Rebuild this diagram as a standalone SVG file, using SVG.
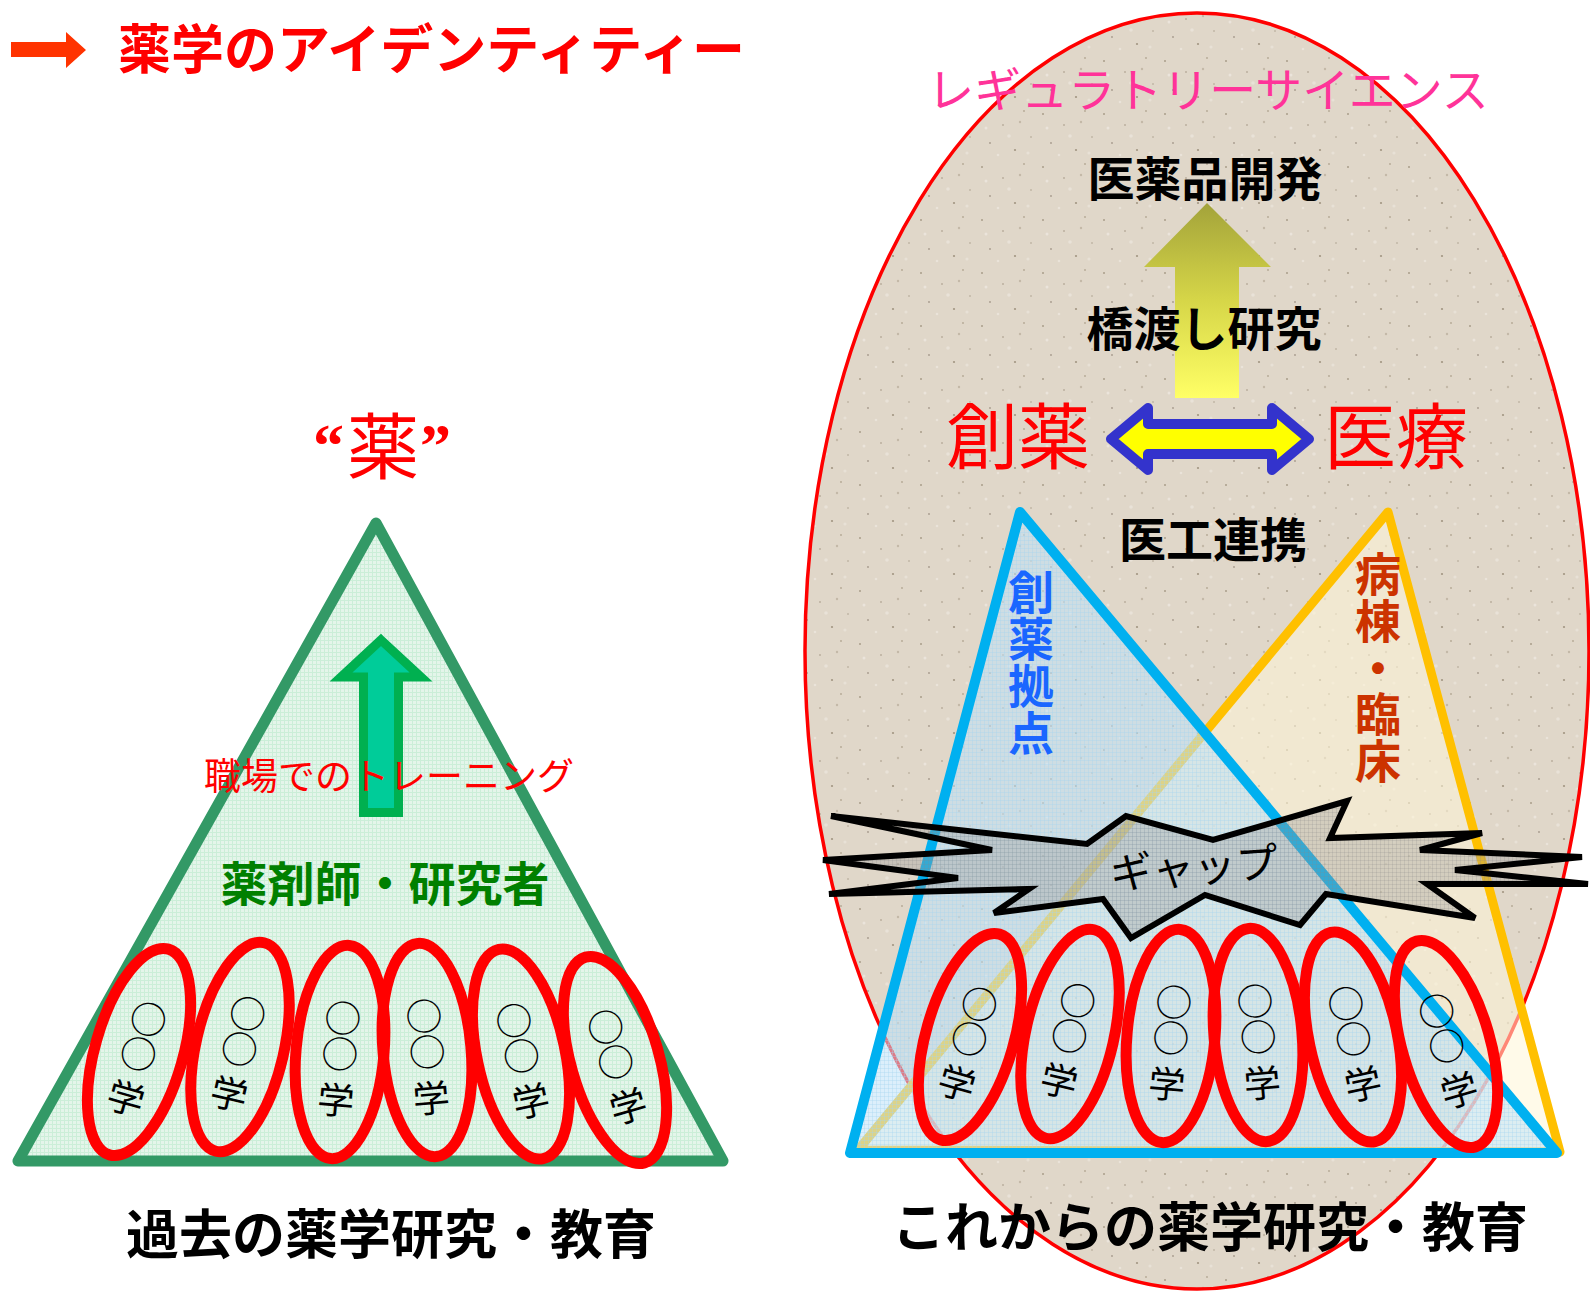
<svg xmlns="http://www.w3.org/2000/svg" width="1590" height="1291" viewBox="0 0 1590 1291">
<defs>
<style>
text { font-family: "Noto Sans CJK JP", "Noto Sans", sans-serif; }
.b { font-weight: bold; }
.c { text-anchor: middle; }
.q { font-family: "Liberation Serif", serif; font-weight: bold; font-size: 62px; }
.oval { fill: none; stroke: #ff0000; stroke-width: 11; }
.gk { font-size: 37px; fill: #000; text-anchor: middle; dominant-baseline: central; }
.blk { fill: #000; }
.vt { writing-mode: vertical-rl; }
</style>
<pattern id="gGrid" width="4" height="4" patternUnits="userSpaceOnUse">
<rect width="4" height="4" fill="#e4f5ea"/>
<path d="M0 0.5H4M0.5 0V4" stroke="#cbeed8" stroke-width="1"/>
</pattern>
<pattern id="bGrid" width="4" height="4" patternUnits="userSpaceOnUse">
<rect width="4" height="4" fill="#bfe2f7" fill-opacity="0.55"/>
<path d="M0 0.5H4M0.5 0V4" stroke="#a6d4ee" stroke-opacity="0.35" stroke-width="1"/>
</pattern>
<pattern id="yGrid" width="4" height="4" patternUnits="userSpaceOnUse">
<rect width="4" height="4" fill="#fff6d6" fill-opacity="0.55"/>
</pattern>
<pattern id="kGrid" width="4" height="4" patternUnits="userSpaceOnUse">
<rect width="4" height="4" fill="#9a9a9a" fill-opacity="0.35"/>
<path d="M0 0.5H4M0.5 0V4" stroke="#888" stroke-opacity="0.2" stroke-width="1"/>
</pattern>
<pattern id="sand" width="61" height="53" patternUnits="userSpaceOnUse">
<rect width="61" height="53" fill="#e0d7c9"/>
<circle cx="6" cy="8" r="1" fill="#aa9e8a"/>
<circle cx="27" cy="19" r="0.8" fill="#a09480"/>
<circle cx="48" cy="5" r="0.9" fill="#b3a894"/>
<circle cx="14" cy="37" r="0.9" fill="#a69a8c"/>
<circle cx="39" cy="44" r="1.1" fill="#a29682"/>
<circle cx="55" cy="31" r="0.8" fill="#ada18e"/>
<circle cx="33" cy="30" r="1.8" fill="#e9e2d8"/>
<circle cx="10" cy="22" r="1.5" fill="#ebe4db"/>
<circle cx="52" cy="47" r="1.6" fill="#e8e1d6"/>
<circle cx="22" cy="49" r="1.3" fill="#eae3d9"/>
<circle cx="44" cy="16" r="1.2" fill="#c4b9a7"/>
</pattern>
<linearGradient id="yArrow" x1="0" y1="0" x2="0" y2="1">
<stop offset="0" stop-color="#a3a33a"/>
<stop offset="0.5" stop-color="#d6d648"/>
<stop offset="1" stop-color="#ffff66"/>
</linearGradient>
</defs>

<rect width="1590" height="1291" fill="#ffffff"/>

<!-- right big ellipse -->
<g id="regulatory-ellipse">
<ellipse cx="1197" cy="651" rx="392" ry="638" fill="url(#sand)" stroke="#ff0000" stroke-width="3.5"/>
</g>

<!-- title -->
<g id="title">
<text x="118" y="69" font-size="53" class="b" fill="#ff0000">薬学のアイデンティティー</text>
</g>

<!-- left pyramid -->
<g id="left-pyramid">
<polygon points="376,523 18,1161 723,1161" fill="url(#gGrid)" stroke="#339966" stroke-width="11" stroke-linejoin="round"/>
</g>

<g id="label-kusuri">
<text fill="#ff0000"><tspan class="q" x="313" y="466">“</tspan><tspan x="347" y="473" font-size="72">薬</tspan><tspan class="q" x="420" y="466">”</tspan></text>
</g>

<!-- right triangles -->
<g id="hospital-triangle">
<polygon points="1388,512 858,1150 1560,1152" fill="url(#yGrid)" stroke="#ffc000" stroke-width="9" stroke-linejoin="round"/>
</g>
<g id="drug-triangle">
<polygon points="1020,512 850,1153 1557,1153" fill="url(#bGrid)" stroke="#00b0f0" stroke-width="10" stroke-linejoin="round"/>
</g>

<!-- connectors / arrows -->
<g id="connectors">
<polygon id="title-arrow" points="11,42 66,42 66,32 86,50 66,68 66,57 11,57" fill="#ff3300"/>
<path id="training-arrow" d="M381,640 L421,677 L398.5,677 L398.5,812.5 L363.5,812.5 L363.5,677 L341,677 Z" fill="#00cc99" stroke="#00b050" stroke-width="9"/>
<path id="bridge-arrow" d="M1207,203 L1271,267 L1239,267 L1239,398 L1175,398 L1175,267 L1144,267 Z" fill="url(#yArrow)"/>
<path id="double-arrow" d="M1111,439 L1148,408 L1148,424 L1272,424 L1272,408 L1309,439 L1272,470 L1272,454 L1148,454 L1148,470 Z" fill="#ffff00" stroke="#3333cc" stroke-width="10" stroke-linejoin="round"/>
</g>

<!-- left labels -->
<g id="label-training">
<text x="389" y="790" class="c" font-size="37" fill="#ff0000">職場でのトレーニング</text>
</g>
<g id="label-pharmacist">
<text x="385" y="901" class="c b" font-size="47" fill="#008000">薬剤師・研究者</text>
</g>
<g id="label-past">
<text x="391" y="1254" class="c b blk" font-size="53">過去の薬学研究・教育</text>
</g>

<!-- right labels -->
<g id="label-regulatory">
<text x="1208" y="107" class="c" font-size="47" fill="#ff3399">レギュラトリーサイエンス</text>
</g>
<g id="label-drugdev">
<text x="1205" y="196" class="c b blk" font-size="47">医薬品開発</text>
</g>
<g id="label-bridge">
<text x="1204" y="346" class="c b blk" font-size="47">橋渡し研究</text>
</g>
<g id="label-souyaku">
<text x="1018" y="463" class="c" font-size="72" fill="#ff0000">創薬</text>
</g>
<g id="label-iryou">
<text x="1396" y="463" class="c" font-size="72" fill="#ff0000">医療</text>
</g>
<g id="label-ikou">
<text x="1213" y="557" class="c b blk" font-size="47">医工連携</text>
</g>
<g id="label-base">
<text class="b vt" x="1031" y="569" font-size="46" letter-spacing="1" fill="#1a66ff">創薬拠点</text>
</g>
<g id="label-clinic">
<text class="b vt" x="1378" y="551" font-size="46" letter-spacing="0.6" fill="#cc3300">病棟・臨床</text>
</g>

<!-- gap burst -->
<g id="gap">
<polygon points="831,816 1087,844 1126,816 1213,840 1347,801 1330,838 1482,833 1420,850 1582,857 1455,870 1588,884 1427,884 1475,918 1326,894 1300,925 1205,895 1131,938 1103,899 994,913 1029,889 829,894 958,878 823,860 992,850" fill="url(#kGrid)" stroke="#000" stroke-width="6"/>
<text x="1194" y="883" class="c blk" font-size="42" transform="rotate(-4 1194 867)">ギャップ</text>
</g>

<!-- left university ovals -->
<g id="uL1" transform="translate(139 1052) rotate(16)"><ellipse class="oval" rx="44" ry="107"/><text class="gk" y="-36">○</text><text class="gk" y="0">○</text><text class="gk" y="46">学</text></g>
<g id="uL2" transform="translate(240 1047) rotate(13)"><ellipse class="oval" rx="44" ry="107"/><text class="gk" y="-36">○</text><text class="gk" y="0">○</text><text class="gk" y="46">学</text></g>
<g id="uL3" transform="translate(340 1052) rotate(5)"><ellipse class="oval" rx="44" ry="107"/><text class="gk" y="-36">○</text><text class="gk" y="0">○</text><text class="gk" y="46">学</text></g>
<g id="uL4" transform="translate(427 1050) rotate(-5)"><ellipse class="oval" rx="44" ry="107"/><text class="gk" y="-36">○</text><text class="gk" y="0">○</text><text class="gk" y="46">学</text></g>
<g id="uL5" transform="translate(521 1054) rotate(-12)"><ellipse class="oval" rx="44" ry="107"/><text class="gk" y="-36">○</text><text class="gk" y="0">○</text><text class="gk" y="46">学</text></g>
<g id="uL6" transform="translate(615 1060) rotate(-16)"><ellipse class="oval" rx="44" ry="107"/><text class="gk" y="-36">○</text><text class="gk" y="0">○</text><text class="gk" y="46">学</text></g>

<!-- right university ovals -->
<g id="uR1" transform="translate(970 1037) rotate(16)"><ellipse class="oval" rx="44" ry="107"/><text class="gk" y="-36">○</text><text class="gk" y="0">○</text><text class="gk" y="46">学</text></g>
<g id="uR2" transform="translate(1070 1034) rotate(13)"><ellipse class="oval" rx="44" ry="107"/><text class="gk" y="-36">○</text><text class="gk" y="0">○</text><text class="gk" y="46">学</text></g>
<g id="uR3" transform="translate(1171 1036) rotate(5)"><ellipse class="oval" rx="44" ry="107"/><text class="gk" y="-36">○</text><text class="gk" y="0">○</text><text class="gk" y="46">学</text></g>
<g id="uR4" transform="translate(1258 1035) rotate(-5)"><ellipse class="oval" rx="44" ry="107"/><text class="gk" y="-36">○</text><text class="gk" y="0">○</text><text class="gk" y="46">学</text></g>
<g id="uR5" transform="translate(1353 1037) rotate(-12)"><ellipse class="oval" rx="44" ry="107"/><text class="gk" y="-36">○</text><text class="gk" y="0">○</text><text class="gk" y="46">学</text></g>
<g id="uR6" transform="translate(1446 1044) rotate(-16)"><ellipse class="oval" rx="44" ry="107"/><text class="gk" y="-36">○</text><text class="gk" y="0">○</text><text class="gk" y="46">学</text></g>

<g id="label-future">
<text x="1210" y="1247" class="c b blk" font-size="53">これからの薬学研究・教育</text>
</g>
</svg>
